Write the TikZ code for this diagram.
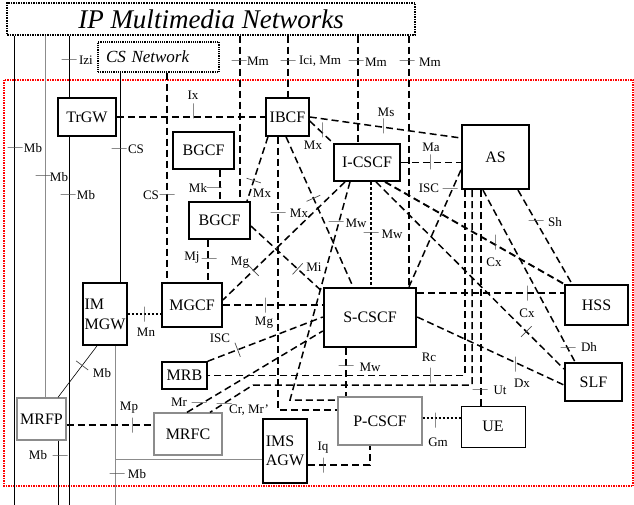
\documentclass[tikz,border=0pt]{standalone}
\usepackage{fontspec}
\setmainfont{Liberation Serif}
\usepackage{tikz}
\usetikzlibrary{positioning}

\begin{document}
\begin{tikzpicture}[x=1pt, y=-1pt,
    box/.style={draw, fill=white, line width=1.8pt, inner sep=1pt, font=\fontsize{16}{17}\selectfont},
    graybox/.style={box, draw=black!45, line width=1.3pt},
    conn/.style={dash pattern=on 7pt off 4pt, line width=1.5pt},
    densew/.style={dash pattern=on 3pt off 2pt, line width=1.6pt},
    dotline/.style={dash pattern=on 2.5pt off 1.5pt, line width=2pt},
    wire/.style={line width=0.9pt},
    graywire/.style={line width=0.9pt, draw=black!45},
    tk/.style={draw=black!70, solid, line width=0.7pt, inner sep=0pt, minimum width=0pt, minimum height=15pt},
    htk/.style={tk, minimum width=15pt, minimum height=0pt},
    lab/.style={inner sep=0pt, font=\fontsize{13}{13}\selectfont}]
    \useasboundingbox (0,0) rectangle (634,505);

    % IMS area
    \draw[red, densely dotted, line width=1.5pt] (4,80) rectangle (633,486);

    % Other networks
    \node[box, line width=1.5pt, densely dotted, minimum width=408pt, minimum height=32pt,
          font=\fontsize{27}{28}\selectfont\itshape] (ipnet) at (211,19) {IP Multimedia Networks};
    \node[box, line width=1.2pt, densely dotted, minimum height=30pt, inner xsep=8pt,
          text width=105pt, align=left, font=\fontsize{17}{18}\selectfont\itshape] (csnet) at (158.5,57) {CS Network};

    % Functions
    \node[box, line width=1.5pt, minimum width=58pt, minimum height=38pt] (trgw) at (87,117) {TrGW};
    \node[box, line width=1.5pt, minimum width=43pt, minimum height=38pt] (ibcf) at (287.5,117) {IBCF};
    \node[box, minimum width=61pt, minimum height=37pt] (bgcfa) at (203.5,150.5) {BGCF};
    \node[box, minimum width=61pt, minimum height=37pt] (bgcfb) at (219.5,220.5) {BGCF};
    \node[box, minimum width=66pt, minimum height=37pt] (icscf) at (367,162.5) {I-CSCF};
    \node[box, line width=2.2pt, minimum width=67pt, minimum height=64pt] (as) at (495.5,157) {AS};
    \node[box, minimum width=60pt, minimum height=44pt] (mgcf) at (192,305) {MGCF};
    \node[box, minimum width=44pt, minimum height=62pt, align=left,
          font=\fontsize{16}{20}\selectfont] (immgw) at (105,314) {IM\\MGW};
    \node[box, line width=2.5pt, minimum width=92pt, minimum height=59pt] (scscf) at (370,317.5) {S-CSCF};
    \node[box, line width=2.2pt, minimum width=63pt, minimum height=40pt] (hss) at (596.5,305) {HSS};
    \node[box, line width=2.2pt, minimum width=57pt, minimum height=38pt] (slf) at (593.5,382) {SLF};
    \node[box, line width=1.5pt, minimum width=45pt, minimum height=27pt] (mrb) at (184.5,375.5) {MRB};
    \node[graybox, minimum width=68pt, minimum height=42pt] (mrfc) at (188,434) {MRFC};
    \node[graybox, minimum width=49pt, minimum height=42pt] (mrfp) at (41.5,419) {MRFP};
    \node[box, line width=2.5pt, minimum width=44pt, minimum height=64pt, align=left,
          font=\fontsize{16}{19}\selectfont] (imsagw) at (285,451) {IMS\\AGW};
    \node[graybox, minimum width=84pt, minimum height=48pt] (pcscf) at (380,421) {P-CSCF};
    \node[box, line width=1pt, minimum width=64pt, minimum height=41pt] (ue) at (493,426.5) {UE};

    % Free ends and bends
    \coordinate (endA) at (14,505);
    \coordinate (endB) at (69,505);
    \coordinate (endC) at (58,505);
    \coordinate (endD) at (115,505);
    \coordinate (tapD) at (115,459);
    \coordinate (bendMw) at (290,400);
    \coordinate (bendCr) at (253,385);

    % Bearer lines
    \draw[wire] (ipnet.south -| 14,0) -- (endA);
    \draw[graywire] (ipnet.south -| 45,0) -- (mrfp.north -| 45,0);
    \draw[wire] (ipnet.south -| 69,0) -- (trgw.north -| 69,0);
    \draw[wire] (trgw.south -| 69,0) -- (endB);
    \draw[wire] (csnet.south -| 120,0) -- (immgw.north -| 120,0);
    \draw[graywire] (immgw.south -| 115,0) -- (endD);
    \draw[graywire] (tapD) -- (imsagw.west |- tapD);
    \draw[wire] (mrfp.south -| 58,0) -- (endC);
    \draw[wire, line width=0.6pt] (mrfp.north -| 58,0) -- node[tk, sloped, pos=.62] (tkMb4) {} (immgw.south -| 97,0);

    % Signalling to other networks
    \draw[conn] (csnet.south -| 167,0) -- (mgcf.north -| 167,0);
    \draw[conn] (ipnet.south -| 240,0) -- (bgcfb.north -| 240,0);
    \draw[conn] (ipnet.south -| 288,0) -- (ibcf.north -| 288,0);
    \draw[conn] (ipnet.south -| 358,0) -- (icscf.north -| 358,0);
    \draw[conn] (ipnet.south -| 409,0) -- (scscf.north -| 409,0);

    % IBCF
    \draw[conn] (trgw.east) -- (ibcf.west);
    \draw[conn] (ibcf.east) -- (as.west |- 0,138);
    \draw[conn] (ibcf.east |- 0,121) -- (icscf.north west);
    \draw[conn] (ibcf.south -| 268,0) -- node[tk, sloped, pos=.68] (tkMx1) {} (bgcfb.north -| 247,0);
    \draw[conn] (ibcf.south -| 278,0) |- (pcscf.west |- 0,410);
    \draw[conn] (ibcf.south -| 286,0) -- node[tk, sloped, pos=.41] (tkMx3) {} (scscf.north -| 353,0);

    % I-CSCF
    \draw[conn] (icscf.east) -- (as.west |- icscf.east);
    \draw[conn] (icscf.south -| 345,0) -- node[tk, sloped, pos=.75] (tkMg1) {} (mgcf.east |- 0,300);
    \draw[conn] (icscf.south -| 350,0) -- (bendMw) -- (pcscf.west |- bendMw);
    \draw[densew] (icscf.south -| 371,0) -- (scscf.north -| 371,0);
    \draw[conn, line width=1.9pt] (icscf.south -| 385,0) -- (hss.north west);
    \draw[conn] (icscf.south -| 376,0) -- node[tk, sloped, pos=.8] (tkDx2) {} (slf.west |- 0,369);

    % AS
    \draw[conn] (as.west |- 0,170) -- (scscf.north -| 409,0);
    \draw[conn] (as.south -| 518,0) -- (hss.north -| 572,0);
    \draw[conn] (as.south -| 483,0) -- (slf.north -| 575,0);
    \draw[conn] (as.south -| 465,0) |- (mrb.east);
    \draw[conn] (as.south -| 472,0) |- (bendCr) -- (mrfc.north -| 210,0);
    \draw[conn] (as.south -| 481,0) -- (ue.north -| 481,0);

    % S-CSCF
    \draw[conn] (scscf.east |- 0,293) -- (hss.west |- 0,293);
    \draw[conn] (scscf.east |- 0,317) -- (slf.west |- 0,385);
    \draw[conn] (mgcf.east) -- (scscf.west |- mgcf.east);
    \draw[conn] (bgcfb.east |- 0,226) -- node[tk, sloped, pos=.65] (tkMi) {} (scscf.west |- 0,292);
    \draw[conn] (mrb.north east) -- node[tk, sloped, pos=.26] (tkISC2) {} (scscf.west |- 0,317);
    \draw[conn] (mrfc.north -| 187,0) -- (scscf.west |- 0,331);
    \draw[conn] (scscf.south -| 346,0) -- (pcscf.north -| 346,0);

    % Access and media
    \draw[conn] (imsagw.east |- 0,465) -| (pcscf.south -| 370,0);
    \draw[dotline] (pcscf.east |- 0,418) -- (ue.west |- 0,418);
    \draw[conn] (mrfp.east |- 0,425) -- (mrfc.west |- 0,425);
    \draw[dotline] (immgw.east |- 0,314) -- (mgcf.west |- 0,314);
    \draw[conn] (bgcfa.south -| 220,0) -- (bgcfb.north -| 220,0);
    \draw[conn] (bgcfb.south -| 208,0) -- (mgcf.north -| 208,0);

    % Reference point ticks
    \node[htk] (tkIzi) at (69,59) {};
    \node[htk] (tkMm1) at (239,60) {};
    \node[htk] (tkIci) at (288,60) {};
    \node[htk] (tkMm2) at (356,60) {};
    \node[htk] (tkMm3) at (407,60) {};
    \node[htk] (tkMb1) at (15,147) {};
    \node[htk] (tkMb2) at (43,175) {};
    \node[htk] (tkMb3) at (68,194) {};
    \node[htk] (tkCS1) at (119,148) {};
    \node[htk] (tkCS2) at (167,194) {};
    \node[tk] (tkIx) at (193,111) {};
    \node[htk] (tkMk) at (214,187) {};
    \node[htk] (tkMx2) at (278,212) {};
    \node[tk] (tkMx4) at (322,130) {};
    \node[tk] (tkMs) at (383,126) {};
    \node[tk] (tkMa) at (430,162) {};
    \node[htk] (tkISC1) at (450,188) {};
    \node[htk] (tkMw1) at (336,221) {};
    \node[htk] (tkMw2) at (371,232) {};
    \node[tk] (tkCx1) at (495,242) {};
    \node[htk] (tkSh) at (536,220) {};
    \node[tk] (tkMg2) at (265,305) {};
    \node[htk] (tkMj) at (209,258) {};
    \node[tk] (tkMn) at (144,314) {};
    \node[tk] (tkCx2) at (527,293) {};
    \node[tk] (tkDx) at (515,364) {};
    \node[htk] (tkDh) at (568,347) {};
    \node[tk] (tkRc) at (430,375) {};
    \node[htk] (tkUt) at (480,389) {};
    \node[htk] (tkMw3) at (346,365) {};
    \node[tk] (tkGm) at (435,420) {};
    \node[tk] (tkIq) at (323,465) {};
    \node[htk] (tkMr) at (199,402) {};
    \node[htk] (tkCr) at (224,403) {};
    \node[tk] (tkMp) at (132,425) {};
    \node[htk] (tkMb5) at (60,455) {};
    \node[htk] (tkMb6) at (117,473) {};

    % Reference point names
    \node[lab] (lIzi) at (86,60) {Izi};
    \node[lab] (lMm1) at (258,61) {Mm};
    \node[lab] (lIci) at (320,61) {Ici, Mm};
    \node[lab] (lMm2) at (376,62) {Mm};
    \node[lab] (lMm3) at (430,62) {Mm};
    \node[lab] (lMb1) at (33,148) {Mb};
    \node[lab] (lMb2) at (59,177) {Mb};
    \node[lab] (lMb3) at (86,195) {Mb};
    \node[lab] (lCS1) at (136,149) {CS};
    \node[lab] (lCS2) at (151,195) {CS};
    \node[lab] (lIx) at (193,95) {Ix};
    \node[lab] (lMk) at (198,188) {Mk};
    \node[lab] (lMx1) at (262,193) {Mx};
    \node[lab] (lMx2) at (299,213) {Mx};
    \node[lab] (lMx4) at (313,145) {Mx};
    \node[lab] (lMs) at (386,112) {Ms};
    \node[lab] (lMa) at (431,147) {Ma};
    \node[lab] (lISC1) at (429,188) {ISC};
    \node[lab] (lMw1) at (356,223) {Mw};
    \node[lab] (lMw2) at (392,234) {Mw};
    \node[lab] (lCx1) at (494,262) {Cx};
    \node[lab] (lSh) at (555,222) {Sh};
    \node[lab] (lMg1) at (240,263) {Mg};
    \node[lab] (lMi) at (314,267) {Mi};
    \node[lab] (lMj) at (192,258) {Mj};
    \node[lab] (lMn) at (146,332) {Mn};
    \node[lab] (lMg2) at (264,323) {Mg};
    \node[lab] (lCx2) at (527,313) {Cx};
    \node[lab] (lDx) at (522,383) {Dx};
    \node[lab] (lDh) at (589,347) {Dh};
    \node[lab] (lRc) at (429,357) {Rc};
    \node[lab] (lUt) at (500,390) {Ut};
    \node[lab] (lMw3) at (370,367) {Mw};
    \node[lab] (lGm) at (438,442) {Gm};
    \node[lab] (lIq) at (323,448) {Iq};
    \node[lab] (lISC2) at (220,338) {ISC};
    \node[lab] (lMr) at (179,402) {Mr};
    \node[lab] (lCr) at (249,410) {Cr, Mr'};
    \node[lab] (lMp) at (129,408) {Mp};
    \node[lab] (lMb4) at (102,373) {Mb};
    \node[lab] (lMb5) at (38,455) {Mb};
    \node[lab] (lMb6) at (137,474) {Mb};
\end{tikzpicture}
\end{document}
